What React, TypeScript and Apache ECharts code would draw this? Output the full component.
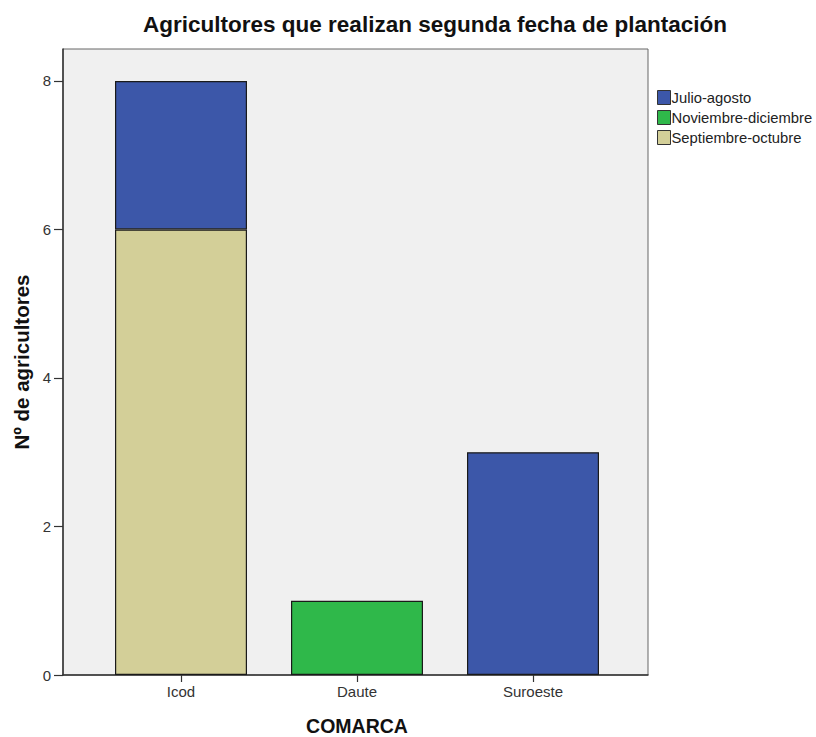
import React, { useEffect, useRef } from "react";
import * as echarts from "echarts";

const categories = ["Icod", "Daute", "Suroeste"];
const septiembreOctubre = [6, 0, 0];
const noviembreDiciembre = [0, 1, 0];
const julioAgosto = [2, 0, 3];
const legendNames = ["Julio-agosto", "Noviembre-diciembre", "Septiembre-octubre"];
const yTicks = [0, 2, 4, 6, 8];

export default function App() {
  const ref = useRef<HTMLDivElement>(null);
  useEffect(() => {
    const chart = echarts.init(ref.current!, null, { renderer: "svg" });
    const font = "Arial, 'Liberation Sans', sans-serif";
    const barStyle = (color: string) => ({ color, borderColor: "#1a1a1a", borderWidth: 1.2 });
    const toNull = (arr: number[]) => arr.map((v) => (v === 0 ? null : v));
    const yMax = 8.43;
    chart.setOption({
      animation: false,
      textStyle: { fontFamily: font },
      title: {
        text: "Agricultores que realizan segunda fecha de plantación",
        left: 430,
        textAlign: "center",
        top: 8,
        textStyle: { fontSize: 22.5, fontWeight: "bold", color: "#111", fontFamily: font },
      },
      legend: {
        data: legendNames,
        orient: "vertical",
        left: 652,
        top: 85,
        itemWidth: 13,
        itemHeight: 14,
        itemGap: 5,
        icon: "rect",
        itemStyle: { borderColor: "#333", borderWidth: 1 },
        textStyle: { fontSize: 14.8, color: "#222", fontFamily: font, padding: [0, 0, 0, -4] },
      },
      grid: [
        {
          left: 63,
          top: 49,
          right: 168,
          bottom: 62,
          show: true,
          backgroundColor: "#f0f0f0",
          borderColor: "#666",
          borderWidth: 1,
          outerBoundsMode: "none",
        },
        {
          left: 93,
          top: 49,
          right: 195,
          bottom: 62,
          outerBoundsMode: "none",
        },
      ],
      xAxis: [
        {
          gridIndex: 0,
          type: "value",
          min: 0,
          max: 1,
          axisLine: { show: true, lineStyle: { color: "#333", width: 1.5 } },
          axisTick: { show: false },
          axisLabel: { show: false },
          splitLine: { show: false },
        },
        {
          gridIndex: 1,
          type: "category",
          data: categories,
          name: "COMARCA",
          nameLocation: "middle",
          nameGap: 41,
          nameTextStyle: { fontSize: 19.5, fontWeight: "bold", color: "#111", fontFamily: font },
          axisLine: { show: false },
          axisTick: { show: true, alignWithLabel: true, length: 7, lineStyle: { color: "#333", width: 1.2 } },
          axisLabel: { fontSize: 15, color: "#333", margin: 9 },
        },
      ],
      yAxis: [
        {
          gridIndex: 0,
          type: "value",
          min: 0,
          max: yMax,
          interval: 2,
          name: "Nº de agricultores",
          nameLocation: "middle",
          nameGap: 31,
          nameTextStyle: { fontSize: 20.5, fontWeight: "bold", color: "#111", fontFamily: font },
          axisLine: { show: true, lineStyle: { color: "#333", width: 1.5 } },
          axisTick: { show: true, length: 9, lineStyle: { color: "#333", width: 1.2 } },
          axisLabel: {
            fontSize: 15,
            color: "#333",
            margin: 12,
            showMaxLabel: false,
            formatter: (v: number) => (yTicks.includes(v) ? String(v) : ""),
          },
          splitLine: { show: false },
        },
        {
          gridIndex: 1,
          type: "value",
          min: 0,
          max: yMax,
          show: false,
        },
      ],
      series: [
        {
          name: "Septiembre-octubre",
          type: "bar",
          stack: "total",
          xAxisIndex: 1,
          yAxisIndex: 1,
          barWidth: 132,
          data: toNull(septiembreOctubre),
          itemStyle: barStyle("#d3cf98"),
        },
        {
          name: "Noviembre-diciembre",
          type: "bar",
          stack: "total",
          xAxisIndex: 1,
          yAxisIndex: 1,
          barWidth: 132,
          data: toNull(noviembreDiciembre),
          itemStyle: barStyle("#2fb84a"),
        },
        {
          name: "Julio-agosto",
          type: "bar",
          stack: "total",
          xAxisIndex: 1,
          yAxisIndex: 1,
          barWidth: 132,
          data: toNull(julioAgosto),
          itemStyle: barStyle("#3c57a9"),
        },
      ],
    });
    return () => chart.dispose();
  }, []);
  return <div ref={ref} style={{ width: 816, height: 737, position: "absolute", left: 0, top: 0, background: "#fff" }} />;
}
